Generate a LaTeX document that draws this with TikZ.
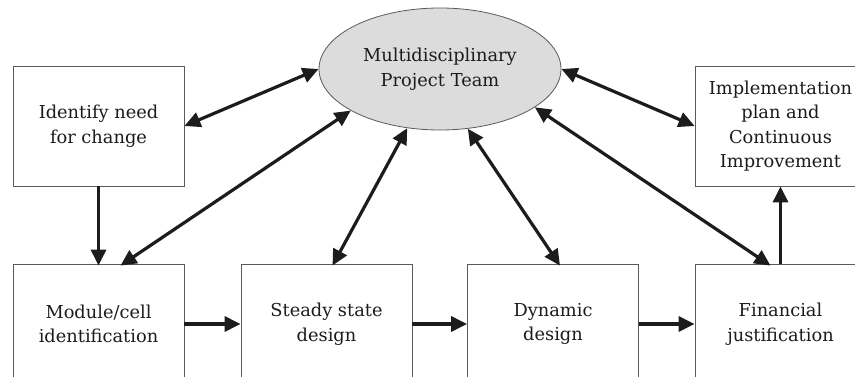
\documentclass[tikz,border=0pt]{standalone}
\usepackage{fontspec}
\setmainfont{DejaVu Serif}
\usetikzlibrary{arrows.meta,shapes.geometric,calc}
\definecolor{ink}{HTML}{1E1B1C}
\definecolor{frame}{HTML}{5A5A5A}
\definecolor{teamfill}{HTML}{DCDCDC}
\tikzset{
  label font/.style={font=\rmfamily\fontsize{17.8}{24.5}\selectfont, text=ink},
  stepbox/.style={draw=frame, line width=0.8pt, fill=white,
    minimum width=171pt, minimum height=120pt, inner sep=0pt,
    align=center, label font},
  team/.style={ellipse, draw=frame, line width=0.8pt, fill=teamfill,
    minimum width=242pt, minimum height=122pt, inner sep=0pt,
    align=center, label font},
  link/.style={draw=ink, line width=3.2pt,
    {Triangle[length=16pt,width=15pt]}-{Triangle[length=16pt,width=15pt]}},
  flow/.style={draw=ink, line width=3.2pt, -{Triangle[length=16pt,width=15pt]}}
}
\begin{document}
\begin{tikzpicture}[x=1pt,y=-1pt]
  \useasboundingbox (0,0) rectangle (855,377);
  \clip (0,0) rectangle (855,377);

  % process boxes
  \node[stepbox] (need) at (98.5,126) {Identify need\\for change};
  \node[stepbox] (impl) at (780.5,126) {Implementation\\plan and\\Continuous\\Improvement};
  \node[stepbox] (cell) at (98.5,324) {Module/cell\\identification};
  \node[stepbox] (steady) at (326.5,324) {Steady state\\design};
  \node[stepbox] (dyn) at (553,324) {Dynamic\\design};
  \node[stepbox] (fin) at (780.5,324) {Financial\\justification};

  % central team
  \node[team] (pt) at (440,69) {Multidisciplinary\\Project Team};

  % links between the team and each step
  \draw[link] (need.east) -- (pt.180);
  \draw[link] ([xshift=22pt,yshift=-2pt]cell.north) -- (pt.205);
  \draw[link] ([xshift=6pt,yshift=-2pt]steady.north) -- (pt.241);
  \draw[link] ([xshift=7pt,yshift=-2pt]dyn.north) -- (pt.295);
  \draw[link] ([xshift=-10pt,yshift=-2pt]fin.north) -- (pt.338);
  \draw[link] (impl.west) -- (pt.0);

  % process flow
  \draw[flow] (need.south) -- ([yshift=-2pt]cell.north);
  \draw[flow] (cell.east) -- (steady.west);
  \draw[flow] (steady.east) -- (dyn.west);
  \draw[flow] (dyn.east) -- (fin.west);
  \draw[flow] (fin.north) -- (impl.south);
\end{tikzpicture}
\end{document}
